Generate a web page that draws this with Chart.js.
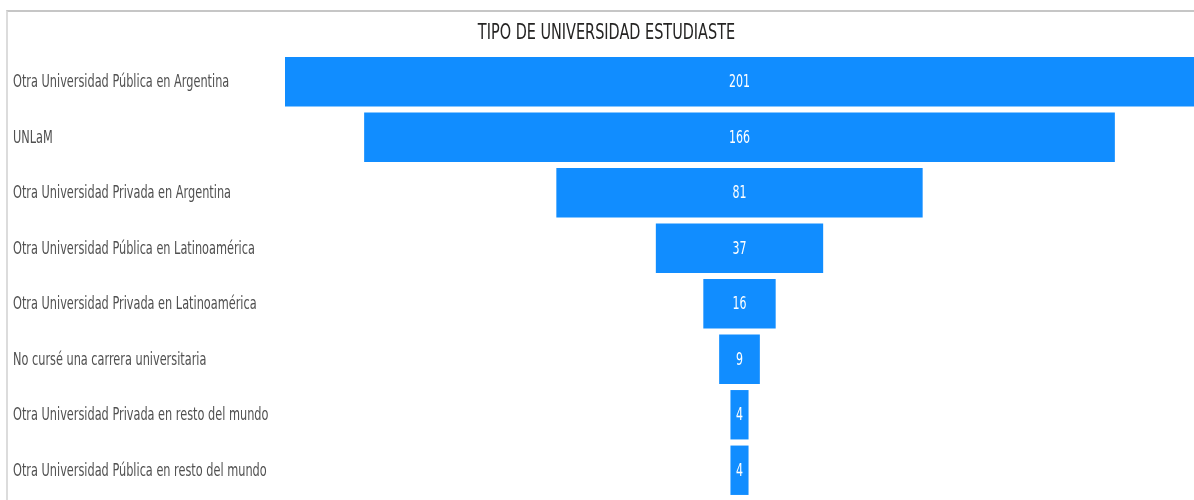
<!DOCTYPE html>
<html>
<head>
<meta charset="utf-8">
<script src="https://cdn.jsdelivr.net/npm/chart.js@4"></script>
<style>
  html, body { margin: 0; padding: 0; background: #fff; }
  #wrap { position: relative; width: 1194px; height: 500px; }
  #frame {
    position: absolute; left: 6px; top: 10px; right: 0; bottom: 0;
    border-top: 2px solid #c6c6c6; border-left: 2px solid #dcdcdc;
    pointer-events: none;
  }
</style>
</head>
<body>
<div id="wrap">
  <canvas id="myChart" width="1194" height="500"></canvas>
  <div id="frame"></div>
</div>
<script>
const categories = [
  'Otra Universidad Pública en Argentina',
  'UNLaM',
  'Otra Universidad Privada en Argentina',
  'Otra Universidad Pública en Latinoamérica',
  'Otra Universidad Privada en Latinoamérica',
  'No cursé una carrera universitaria',
  'Otra Universidad Privada en resto del mundo',
  'Otra Universidad Pública en resto del mundo'
];
const values = [201, 166, 81, 37, 16, 9, 4, 4];
const chartTitle = 'TIPO DE UNIVERSIDAD ESTUDIASTE';

const FONT = '"DejaVu Sans Condensed", "Liberation Sans Narrow", sans-serif';

// the original uses a very narrow font, so text is squeezed sideways
function squeezedText(c, text, x, y, sx) {
  c.save();
  c.translate(x, y);
  c.scale(sx, 1);
  c.fillText(text, 0, 0);
  c.restore();
}

const funnelText = {
  id: 'funnelText',
  afterDraw(chart) {
    const c = chart.ctx;
    const yScale = chart.scales.y;
    const meta = chart.getDatasetMeta(0);
    c.save();
    c.textBaseline = 'middle';

    // category labels, left aligned
    c.fillStyle = '#505050';
    c.font = '17px ' + FONT;
    c.textAlign = 'left';
    categories.forEach((label, i) => {
      squeezedText(c, label, 13, yScale.getPixelForTick(i) + 1, 0.74);
    });

    // value inside each bar
    c.fillStyle = '#ffffff';
    c.font = '18px ' + FONT;
    c.textAlign = 'center';
    meta.data.forEach((bar, i) => {
      squeezedText(c, String(values[i]), bar.base + (bar.x - bar.base) / 2, bar.y + 1, 0.68);
    });

    // title
    c.fillStyle = '#252423';
    c.font = '22px ' + FONT;
    c.textAlign = 'center';
    c.textBaseline = 'alphabetic';
    squeezedText(c, chartTitle, 606.5, 38.5, 0.73);
    c.restore();
  }
};

const half = Math.max(...values) / 2;

new Chart(document.getElementById('myChart'), {
  type: 'bar',
  data: {
    labels: categories,
    datasets: [{
      data: values.map(v => [-v / 2, v / 2]),
      backgroundColor: '#118dff',
      borderWidth: 0,
      borderSkipped: false,
      barPercentage: 0.89,
      categoryPercentage: 1
    }]
  },
  options: {
    indexAxis: 'y',
    responsive: false,
    animation: false,
    layout: { padding: { left: 11, top: 54, right: 0, bottom: 2 } },
    scales: {
      x: {
        display: false,
        min: -half,
        max: half
      },
      y: {
        grid: { display: false },
        border: { display: false },
        ticks: { display: false },
        afterFit(scale) { scale.width = 274; }
      }
    },
    plugins: {
      legend: { display: false },
      tooltip: { enabled: false },
      title: { display: false }
    }
  },
  plugins: [funnelText]
});
</script>
</body>
</html>
